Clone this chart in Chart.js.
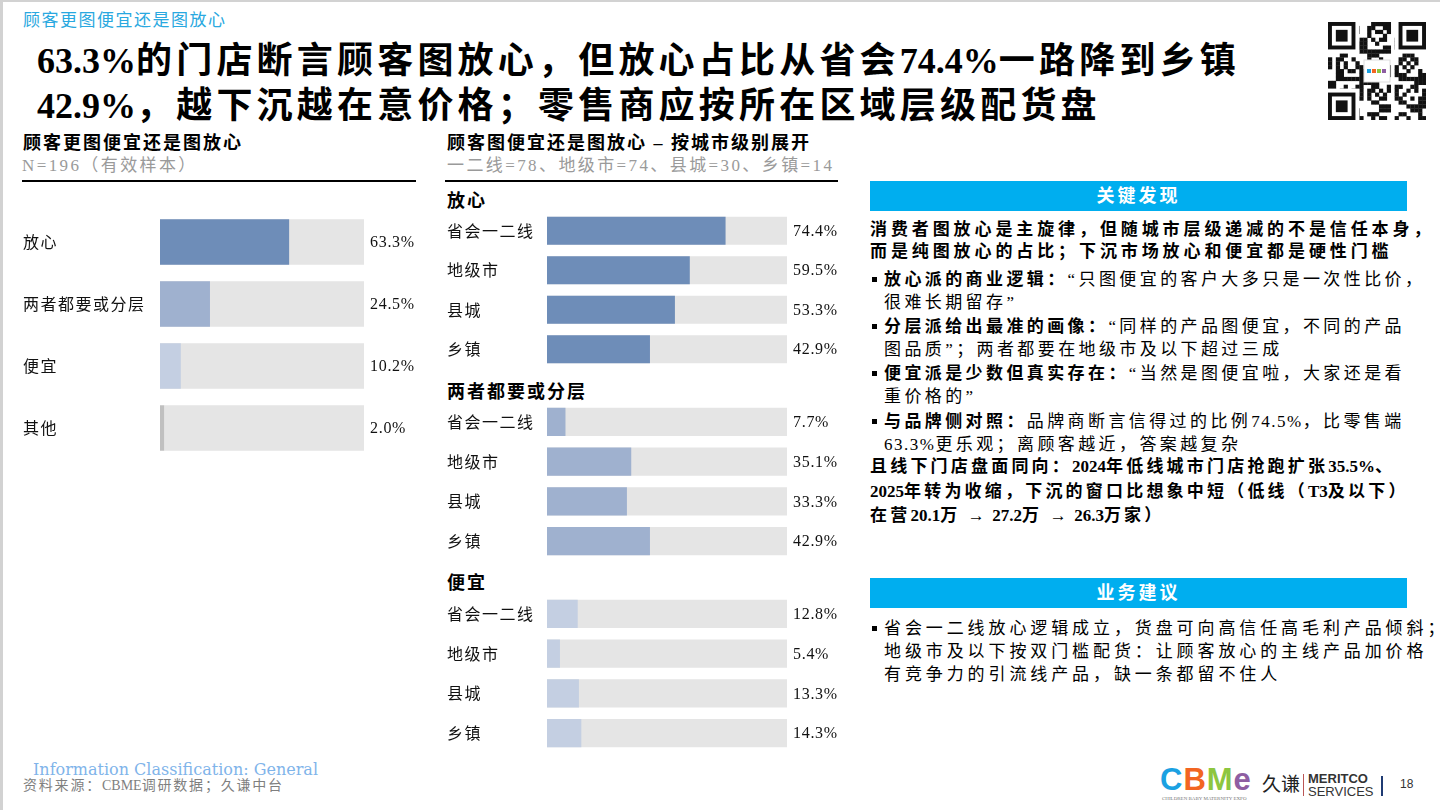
<!DOCTYPE html>
<html>
<head>
<meta charset="utf-8">
<script src="https://cdn.jsdelivr.net/npm/chart.js@4.4.0/dist/chart.umd.min.js"></script>
<style>
  html, body { margin: 0; padding: 0; }
  body {
    width: 1440px; height: 810px; position: relative; overflow: hidden; background: #fff;
    font-family: "Liberation Serif", "Noto Sans CJK SC", serif; color: #000;
  }
  .frame-top { position: absolute; left: 0; top: 0; width: 1440px; height: 2px; background: #d2d2d2; }
  .frame-left { position: absolute; left: 0; top: 0; width: 3px; height: 810px; background: #d2d2d2; }
  .abs { position: absolute; white-space: nowrap; }
  .n { letter-spacing: 0; }
  .n1 { letter-spacing: 1.5px; }
  .kicker { left: 23px; top: 6px; font-size: 17px; color: #29a8e0; letter-spacing: 1.5px; }
  .title { left: 37px; top: 39px; font-size: 36px; font-weight: bold; line-height: 45px; letter-spacing: 4.2px; }
  .hdr { font-size: 18px; font-weight: bold; letter-spacing: 2px; }
  .sub { font-size: 17px; color: #9a9a9a; letter-spacing: 2.4px; }
  .rule { position: absolute; height: 2px; background: #000; }
  .group { font-size: 18px; font-weight: bold; letter-spacing: 2px; }
  .box { position: absolute; width: 300px; }
  .panel-bar {
    position: absolute; left: 870px; width: 537px; height: 30px; background: #00aeef;
    color: #fff; font-weight: bold; font-size: 18px; letter-spacing: 3px; text-align: center; line-height: 30px;
  }
  .para { position: absolute; left: 870px; font-size: 17px; letter-spacing: 3.9px; white-space: nowrap; }
  .para b { font-weight: bold; }
  .bul { position: absolute; left: 870px; font-size: 17px; letter-spacing: 3.4px; white-space: nowrap; line-height: 23px; }
  .bul .dot { position: absolute; left: 2px; top: 9px; width: 5px; height: 5px; background: #000; }
  .bul .txt { position: absolute; left: 14px; top: 0; }
  .foot-info { left: 33px; top: 760px; font-size: 16px; color: #7fb4ea; font-family: "DejaVu Serif", serif; }
  .foot-src { left: 23px; top: 774px; font-size: 14px; color: #7f7f7f; letter-spacing: 1.8px; }
</style>
</head>
<body>
<div class="frame-top"></div>
<div class="frame-left"></div>

<div class="abs kicker">顾客更图便宜还是图放心</div>
<div class="abs title"><span class="n">63.3%</span>的门店断言顾客图放心，但放心占比从省会<span class="n">74.4%</span>一路降到乡镇<br><span class="n">42.9%</span>，越下沉越在意价格；零售商应按所在区域层级配货盘</div>
<canvas id="qr" width="98" height="98" style="position:absolute;left:1328px;top:22px;"></canvas>

<!-- left block -->
<div class="abs hdr" style="left:23px;top:128px;">顾客更图便宜还是图放心</div>
<div class="abs sub" style="left:22px;top:151px;">N=196（有效样本）</div>
<div class="rule" style="left:22px;top:180px;width:394px;"></div>
<div class="box" style="left:23px;top:211px;width:397px;height:248px;"><canvas id="overall"></canvas></div>

<!-- middle block -->
<div class="abs hdr" style="left:447px;top:128px;">顾客图便宜还是图放心 – 按城市级别展开</div>
<div class="abs sub" style="left:447px;top:151px;">一二线=78、地级市=74、县城=30、乡镇=14</div>
<div class="rule" style="left:445px;top:180px;width:393px;"></div>
<div class="abs group" style="left:447px;top:186px;">放心</div>
<div class="box" style="left:447px;top:211px;width:398px;height:158px;"><canvas id="trust"></canvas></div>
<div class="abs group" style="left:447px;top:377px;">两者都要或分层</div>
<div class="box" style="left:447px;top:402px;width:398px;height:159px;"><canvas id="both"></canvas></div>
<div class="abs group" style="left:447px;top:568px;">便宜</div>
<div class="box" style="left:447px;top:594px;width:398px;height:159px;"><canvas id="cheap"></canvas></div>

<!-- right panel -->
<div class="panel-bar" style="top:181px;">关键发现</div>
<div class="para" style="top:219px;line-height:22px;"><b>消费者图放心是主旋律，但随城市层级递减的不是信任本身，<br>而是纯图放心的占比；下沉市场放心和便宜都是硬性门槛</b></div>
<div class="bul" style="top:268px;"><span class="dot"></span><span class="txt"><b>放心派的商业逻辑：</b>“只图便宜的客户大多只是一次性比价，<br>很难长期留存”</span></div>
<div class="bul" style="top:315px;"><span class="dot"></span><span class="txt"><b>分层派给出最准的画像：</b>“同样的产品图便宜，不同的产品<br>图品质”；两者都要在地级市及以下超过三成</span></div>
<div class="bul" style="top:362px;"><span class="dot"></span><span class="txt"><b>便宜派是少数但真实存在：</b>“当然是图便宜啦，大家还是看<br>重价格的”</span></div>
<div class="bul" style="top:410px;"><span class="dot"></span><span class="txt"><b>与品牌侧对照：</b>品牌商断言信得过的比例<span class="n1">74.5%</span>，比零售端<br><span class="n1">63.3%</span>更乐观；离顾客越近，答案越复杂</span></div>
<div class="para" style="top:455px;line-height:24.5px;letter-spacing:3.2px;"><b>且线下门店盘面同向：<span class="n">2024</span>年低线城市门店抢跑扩张<span class="n">35.5%</span>、<br><span class="n">2025</span>年转为收缩，下沉的窗口比想象中短（低线（<span class="n">T3</span>及以下）<br>在营<span class="n">20.1</span>万 <span class="n">→</span> <span class="n">27.2</span>万 <span class="n">→</span> <span class="n">26.3</span>万家）</b></div>

<div class="panel-bar" style="top:578px;">业务建议</div>
<div class="bul" style="top:617px;letter-spacing:3.9px;"><span class="dot"></span><span class="txt">省会一二线放心逻辑成立，货盘可向高信任高毛利产品倾斜；<br>地级市及以下按双门槛配货：让顾客放心的主线产品加价格<br>有竞争力的引流线产品，缺一条都留不住人</span></div>

<!-- footer -->
<div class="abs foot-info">Information Classification: General</div>
<div class="abs foot-src">资料来源：<span class="n">CBME</span>调研数据；久谦中台</div>
<div class="abs" style="left:1160px;top:764px;font-family:'Liberation Sans',sans-serif;font-weight:bold;font-size:31px;letter-spacing:1px;line-height:32px;">
  <span style="color:#1ba1e2;">C</span><span style="color:#f26522;">B</span><span style="color:#8dc63f;">M</span><span style="color:#8e5ea2;">e</span>
</div>
<div class="abs" style="left:1162px;top:796px;font-size:5px;color:#777;">CHILDREN BABY MATERNITY EXPO</div>
<div class="abs" style="left:1262px;top:771px;font-size:19px;font-family:'Noto Sans CJK SC';color:#222;line-height:24px;">久谦</div>
<div class="abs" style="left:1303px;top:774px;width:1px;height:22px;background:#b55;"></div>
<div class="abs" style="left:1308px;top:772px;font-family:'Liberation Sans Narrow','Liberation Sans',sans-serif;font-size:13px;line-height:13px;color:#333;"><b>MERITCO</b><br>SERVICES</div>
<div class="abs" style="left:1381px;top:776px;width:2px;height:20px;background:#1f3b73;"></div>
<div class="abs" style="left:1400px;top:777px;font-family:'Liberation Sans Narrow','Liberation Sans',sans-serif;font-size:12px;color:#333;">18</div>

<script>
// ---- data ----
const overallCats = ['放心', '两者都要或分层', '便宜', '其他'];
const overallVals = [63.3, 24.5, 10.2, 2.0];
const overallColors = ['#6e8db8', '#9fb1cf', '#c4cfe2', '#c0c0c0'];

const cityCats = ['省会一二线', '地级市', '县城', '乡镇'];
const trustVals = [74.4, 59.5, 53.3, 42.9];
const bothVals = [7.7, 35.1, 33.3, 42.9];
const cheapVals = [12.8, 5.4, 13.3, 14.3];

const trackMax = 100;
const trackColor = '#e5e5e5';

// a little tracking on the category labels, like the slide
const labelSpacing = {
  id: 'labelSpacing',
  beforeDraw(chart) { chart.ctx.letterSpacing = '1.5px'; }
};

// value text to the right of the grey track
const valueLabels = {
  id: 'valueLabels',
  afterDatasetsDraw(chart) {
    const { ctx, chartArea } = chart;
    const meta = chart.getDatasetMeta(0);
    const vals = chart.data.datasets[0].data;
    ctx.save();
    ctx.letterSpacing = '0.7px';
    ctx.font = '16px "Liberation Serif"';
    ctx.fillStyle = '#111';
    ctx.textAlign = 'left';
    ctx.textBaseline = 'middle';
    meta.data.forEach((bar, i) => {
      ctx.fillText(vals[i].toFixed(1) + '%', chartArea.right + 6, bar.y + 1);
    });
    ctx.restore();
  }
};

function makeBars(id, cats, vals, colors, axisW, rightPad, catPct) {
  const ctx = document.getElementById(id).getContext('2d');
  return new Chart(ctx, {
    type: 'bar',
    data: {
      labels: cats,
      datasets: [
        { data: vals, backgroundColor: colors, borderWidth: 0, grouped: false,
          barPercentage: 1, categoryPercentage: catPct },
        { data: cats.map(() => trackMax), backgroundColor: trackColor, borderWidth: 0, grouped: false,
          barPercentage: 1, categoryPercentage: catPct }
      ]
    },
    options: {
      indexAxis: 'y',
      responsive: true,
      maintainAspectRatio: false,
      animation: false,
      layout: { padding: { left: 0, right: rightPad, top: 0, bottom: 0 } },
      plugins: { legend: { display: false }, tooltip: { enabled: false } },
      scales: {
        x: { display: false, min: 0, max: trackMax },
        y: {
          afterFit(scale) {
            scale.width = axisW;
            // no extra room for first/last label, rows fill the box
            scale.paddingTop = 0;
            scale.paddingBottom = 0;
          },
          grid: { display: false },
          border: { display: false },
          ticks: {
            crossAlign: 'far',
            color: '#111',
            font: { family: '"Noto Sans CJK SC"', size: 16 }
          }
        }
      }
    },
    plugins: [labelSpacing, valueLabels]
  });
}

makeBars('overall', overallCats, overallVals, overallColors, 137, 56, 0.73);
makeBars('trust', cityCats, trustVals, '#6e8db8', 100, 58, 0.71);
makeBars('both', cityCats, bothVals, '#9fb1cf', 100, 58, 0.71);
makeBars('cheap', cityCats, cheapVals, '#c4cfe2', 100, 58, 0.71);

// decorative QR-style badge
(function () {
  const c = document.getElementById('qr').getContext('2d');
  const n = 25, s = 98 / n;
  c.fillStyle = '#fff';
  c.fillRect(0, 0, 98, 98);
  c.fillStyle = '#111';
  for (let y = 0; y < n; y++) {
    for (let x = 0; x < n; x++) {
      const h = (x * 31 + y * 17 + x * y * 7 + (x ^ y) * 3) % 11;
      if (h < 5) c.fillRect(x * s, y * s, s + 0.3, s + 0.3);
    }
  }
  function finder(px, py) {
    c.fillStyle = '#fff'; c.fillRect(px * s - s, py * s - s, 9 * s, 9 * s);
    c.fillStyle = '#111'; c.fillRect(px * s, py * s, 7 * s, 7 * s);
    c.fillStyle = '#fff'; c.fillRect(px * s + s, py * s + s, 5 * s, 5 * s);
    c.fillStyle = '#111'; c.fillRect(px * s + 2 * s, py * s + 2 * s, 3 * s, 3 * s);
  }
  finder(0, 0); finder(n - 7, 0); finder(0, n - 7);
  c.fillStyle = '#fff'; c.fillRect(36, 38, 26, 22);
  c.strokeStyle = '#ddd'; c.strokeRect(36, 38, 26, 22);
  const cols = ['#1ba1e2', '#f26522', '#8dc63f', '#8e5ea2'];
  cols.forEach((col, i) => { c.fillStyle = col; c.fillRect(39 + i * 5, 47, 4, 4); });
})();
</script>
</body>
</html>
